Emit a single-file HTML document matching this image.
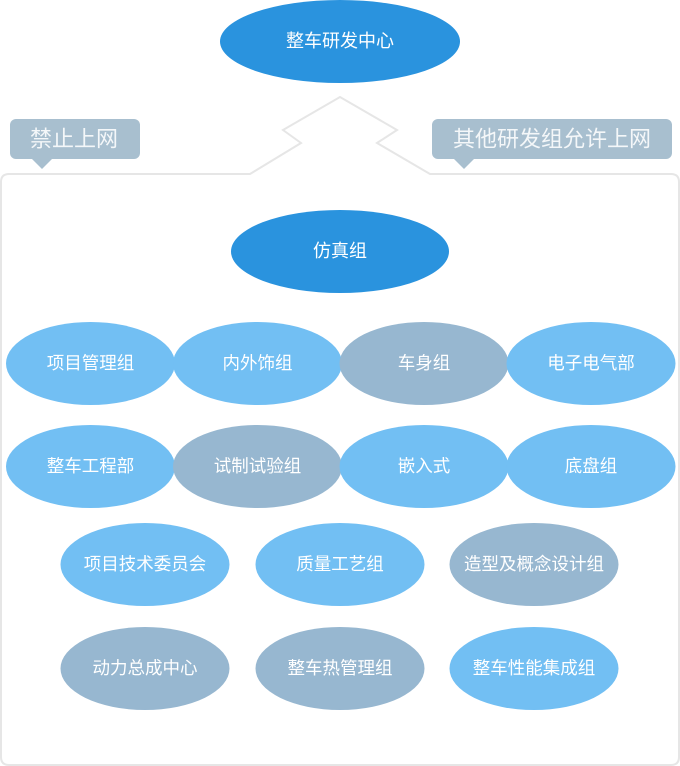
<!DOCTYPE html>
<html><head><meta charset="utf-8"><style>
html,body{margin:0;padding:0;background:#fff;width:680px;height:766px;overflow:hidden}
text{font-family:"Liberation Sans","Noto Sans CJK SC",sans-serif;fill:#fff;text-anchor:middle;dominant-baseline:central}
</style></head><body>
<svg width="680" height="766" viewBox="0 0 680 766" xmlns="http://www.w3.org/2000/svg">
<path d="M250,174 L301,143 L283,130 L340,97 L397,130 L377,143 L430,174 L671,174 Q679,174 679,182 L679,757 Q679,765 671,765 L9,765 Q1,765 1,757 L1,182 Q1,174 9,174 Z" fill="#fff" stroke="#e6e6e6" stroke-width="2"/>
<rect x="10" y="119" width="130" height="40" rx="6" fill="#a8bfcf"/>
<path d="M31,158 L42,169 L53,158 Z" fill="#a8bfcf"/>
<text x="74" y="139" font-size="22" style="fill:#f4f7f9">禁止上网</text>
<rect x="432" y="119" width="240" height="40" rx="6" fill="#a8bfcf"/>
<path d="M453,158 L464,169 L475,158 Z" fill="#a8bfcf"/>
<text x="552" y="139" font-size="22" style="fill:#f4f7f9">其他研发组允许上网</text>
<ellipse cx="340" cy="41.5" rx="120" ry="41.5" fill="#2a93de"/>
<text x="340" y="41" font-size="18">整车研发中心</text>
<ellipse cx="340" cy="251.5" rx="109" ry="41.5" fill="#2a93de"/>
<text x="340" y="251" font-size="18">仿真组</text>
<g font-size="17.5">
<ellipse cx="90.5" cy="363.5" rx="84.5" ry="41.5" fill="#72bff3"/><text x="90.5" y="363">项目管理组</text>
<ellipse cx="257.5" cy="363.5" rx="84.5" ry="41.5" fill="#72bff3"/><text x="257.5" y="363">内外饰组</text>
<ellipse cx="424" cy="363.5" rx="84.5" ry="41.5" fill="#97b7d0"/><text x="424" y="363">车身组</text>
<ellipse cx="591" cy="363.5" rx="84.5" ry="41.5" fill="#72bff3"/><text x="591" y="363">电子电气部</text>
<ellipse cx="90.5" cy="466.5" rx="84.5" ry="41.5" fill="#72bff3"/><text x="90.5" y="466">整车工程部</text>
<ellipse cx="257.5" cy="466.5" rx="84.5" ry="41.5" fill="#97b7d0"/><text x="257.5" y="466">试制试验组</text>
<ellipse cx="424" cy="466.5" rx="84.5" ry="41.5" fill="#72bff3"/><text x="424" y="466">嵌入式</text>
<ellipse cx="591" cy="466.5" rx="84.5" ry="41.5" fill="#72bff3"/><text x="591" y="466">底盘组</text>
<ellipse cx="145" cy="564.5" rx="84.5" ry="41.5" fill="#72bff3"/><text x="145" y="564">项目技术委员会</text>
<ellipse cx="340" cy="564.5" rx="84.5" ry="41.5" fill="#72bff3"/><text x="340" y="564">质量工艺组</text>
<ellipse cx="534" cy="564.5" rx="84.5" ry="41.5" fill="#97b7d0"/><text x="534" y="564">造型及概念设计组</text>
<ellipse cx="145" cy="668.5" rx="84.5" ry="41.5" fill="#97b7d0"/><text x="145" y="668">动力总成中心</text>
<ellipse cx="340" cy="668.5" rx="84.5" ry="41.5" fill="#97b7d0"/><text x="340" y="668">整车热管理组</text>
<ellipse cx="534" cy="668.5" rx="84.5" ry="41.5" fill="#72bff3"/><text x="534" y="668">整车性能集成组</text>
</g>
</svg>
</body></html>
